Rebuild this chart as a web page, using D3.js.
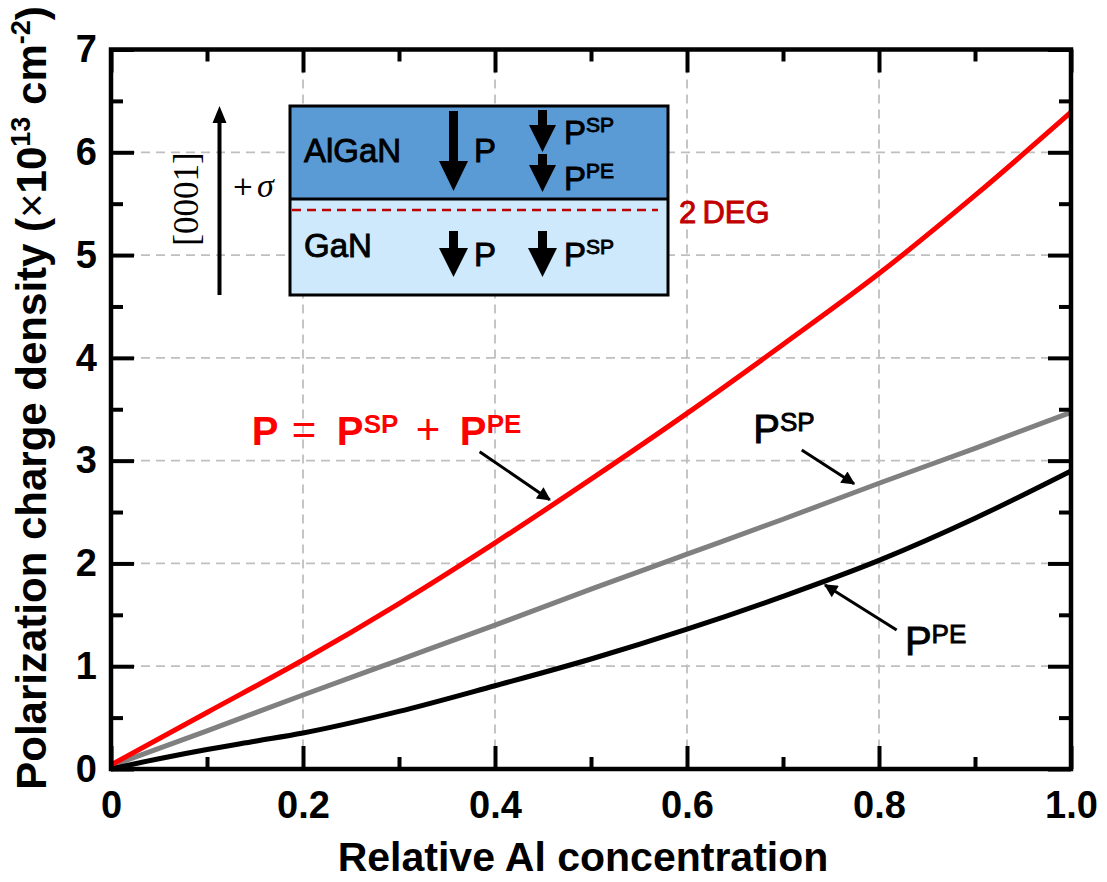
<!DOCTYPE html>
<html>
<head>
<meta charset="utf-8">
<script src="https://cdn.jsdelivr.net/npm/d3@7"></script>
<style>
  body { margin: 0; background: #fff; }
  text { font-family: "Liberation Sans", Arial, sans-serif; }
  .tick-label { font-size: 38px; font-weight: bold; }
  .grid line { stroke: #bfbfbf; stroke-width: 1.8; stroke-dasharray: 9 6; }
  .medium { stroke: currentColor; stroke-width: 0.9; }
</style>
</head>
<body>
<div id="chart"></div>
<script>
// values
const alContent = [0, 0.1, 0.2, 0.3, 0.4, 0.5, 0.6, 0.7, 0.8, 0.9, 1.0];
const pTotal = [0.04, 0.55, 1.06, 1.61, 2.2, 2.82, 3.46, 4.13, 4.82, 5.58, 6.39];
const pSp = [0.03, 0.37, 0.72, 1.06, 1.4, 1.75, 2.09, 2.43, 2.78, 3.12, 3.47];
const pPeX = [0, 0.05, 0.1, 0.15, 0.2, 0.3, 0.4, 0.5, 0.6, 0.7, 0.8, 0.9, 1.0];
const pPe = [0.0, 0.1, 0.19, 0.27, 0.35, 0.56, 0.81, 1.07, 1.36, 1.68, 2.03, 2.44, 2.9];

const xTicks = [0, 0.2, 0.4, 0.6, 0.8, 1.0];
const xTickLabels = ["0", "0.2", "0.4", "0.6", "0.8", "1.0"];
const xMinor = [0.1, 0.3, 0.5, 0.7, 0.9];
const yTicks = [0, 1, 2, 3, 4, 5, 6, 7];
const yMinor = [0.5, 1.5, 2.5, 3.5, 4.5, 5.5, 6.5];

let margin = { top: 49.5, right: 36, bottom: 113, left: 111 },
  width = 1107 - margin.left - margin.right,
  height = 882 - margin.top - margin.bottom;

let svg = d3
  .select("#chart")
  .append("svg")
  .attr("width", 1107)
  .attr("height", 882);

let defs = svg.append("defs");
defs
  .append("marker")
  .attr("id", "head")
  .attr("viewBox", "0 0 10 10")
  .attr("refX", 9)
  .attr("refY", 5)
  .attr("markerWidth", 5.5)
  .attr("markerHeight", 4.5)
  .attr("markerUnits", "strokeWidth")
  .attr("orient", "auto")
  .append("path")
  .attr("d", "M0,0L10,5L0,10z")
  .attr("fill", "#000");

let canvas = svg
  .append("g")
  .attr("transform", "translate(" + margin.left + "," + margin.top + ")");

let xScale = d3.scaleLinear().domain([0, 1]).range([0, width]);
let yScale = d3.scaleLinear().domain([0, 7]).range([height, 0]);

// grid
canvas
  .append("g")
  .attr("class", "grid")
  .selectAll("line.gx")
  .data(xTicks.slice(1, -1))
  .join("line")
  .attr("x1", (d) => xScale(d))
  .attr("x2", (d) => xScale(d))
  .attr("y1", 0)
  .attr("y2", height);

canvas
  .append("g")
  .attr("class", "grid")
  .selectAll("line.gy")
  .data(yTicks.slice(1, -1))
  .join("line")
  .attr("x1", 0)
  .attr("x2", width)
  .attr("y1", (d) => yScale(d))
  .attr("y2", (d) => yScale(d));

// curves
let line = d3
  .line()
  .x((d) => xScale(d[0]))
  .y((d) => yScale(d[1]))
  .curve(d3.curveMonotoneX);

let series = [
  { xs: alContent, ys: pSp, color: "#808080" },
  { xs: pPeX, ys: pPe, color: "#000000" },
  { xs: alContent, ys: pTotal, color: "#ff0000" },
];

series.forEach((s) => {
  canvas
    .append("path")
    .datum(s.xs.map((v, i) => [v, s.ys[i]]))
    .attr("fill", "none")
    .attr("stroke", s.color)
    .attr("stroke-width", 5)
    .attr("d", line);
});

// axes, ticks pointing inward on all four sides
function styleAxis(g) {
  g.select(".domain").remove();
  g.selectAll(".tick line").attr("stroke", "#000").attr("stroke-width", 4);
}

let xAxis = d3
  .axisBottom(xScale)
  .tickValues(xTicks)
  .tickSize(-23)
  .tickPadding(22)
  .tickFormat((d, i) => xTickLabels[i]);

canvas
  .append("g")
  .attr("transform", "translate(0," + height + ")")
  .call(xAxis)
  .call(styleAxis)
  .selectAll("text")
  .attr("class", "tick-label")
  .attr("fill", "#000");

canvas
  .append("g")
  .attr("transform", "translate(0," + height + ")")
  .call(d3.axisBottom(xScale).tickValues(xMinor).tickSize(-12).tickFormat(""))
  .call(styleAxis);

canvas
  .append("g")
  .call(d3.axisTop(xScale).tickValues(xTicks).tickSize(-23).tickFormat(""))
  .call(styleAxis);

canvas
  .append("g")
  .call(d3.axisTop(xScale).tickValues(xMinor).tickSize(-12).tickFormat(""))
  .call(styleAxis);

let yAxis = d3
  .axisLeft(yScale)
  .tickValues(yTicks)
  .tickSize(-23)
  .tickPadding(14)
  .tickFormat(d3.format("d"));

canvas
  .append("g")
  .call(yAxis)
  .call(styleAxis)
  .selectAll("text")
  .attr("class", "tick-label")
  .attr("fill", "#000");

canvas
  .append("g")
  .call(d3.axisLeft(yScale).tickValues(yMinor).tickSize(-12).tickFormat(""))
  .call(styleAxis);

canvas
  .append("g")
  .attr("transform", "translate(" + width + ",0)")
  .call(d3.axisRight(yScale).tickValues(yTicks).tickSize(-23).tickFormat(""))
  .call(styleAxis);

canvas
  .append("g")
  .attr("transform", "translate(" + width + ",0)")
  .call(d3.axisRight(yScale).tickValues(yMinor).tickSize(-12).tickFormat(""))
  .call(styleAxis);

canvas
  .append("rect")
  .attr("width", width)
  .attr("height", height)
  .attr("fill", "none")
  .attr("stroke", "#000")
  .attr("stroke-width", 4.5);

// axis titles
svg
  .append("text")
  .attr("x", 583)
  .attr("y", 871)
  .attr("text-anchor", "middle")
  .style("font-size", "41px")
  .style("font-weight", "bold")
  .text("Relative Al concentration");

let yTitle = svg
  .append("text")
  .attr("transform", "translate(46,398) rotate(-90)")
  .attr("text-anchor", "middle")
  .style("font-size", "42px")
  .style("font-weight", "bold");
yTitle.append("tspan").text("Polarization charge density (");
yTitle.append("tspan").style("font-weight", "normal").text("\u00d7");
yTitle.append("tspan").text("10");
yTitle.append("tspan").attr("dy", -16).style("font-size", "27px").text("13");
yTitle.append("tspan").attr("dy", 16).text(" cm");
yTitle.append("tspan").attr("dy", -16).style("font-size", "27px").text("-2");
yTitle.append("tspan").attr("dy", 16).text(")");

// curve labels and pointers
function supLabel(x, y, base, sup, size, supSize, color) {
  let t = canvas
    .append("text")
    .attr("class", "medium")
    .attr("x", x)
    .attr("y", y)
    .attr("fill", color)
    .style("color", color)
    .style("font-size", size + "px");
  t.append("tspan").text(base);
  t.append("tspan")
    .attr("dy", -size * 0.3)
    .style("font-size", supSize + "px")
    .text(sup);
  return t;
}

function pointer(x1, y1, x2, y2) {
  canvas
    .append("line")
    .attr("x1", xScale(x1))
    .attr("y1", yScale(y1))
    .attr("x2", xScale(x2))
    .attr("y2", yScale(y2))
    .attr("stroke", "#000")
    .attr("stroke-width", 3)
    .attr("marker-end", "url(#head)");
}

pointer(0.384, 3.087, 0.457, 2.62);
pointer(0.7195, 3.103, 0.774, 2.775);
pointer(0.8184, 1.352, 0.7438, 1.79);

// P = PSP + PPE, red
let eq = canvas
  .append("g")
  .attr("transform", "translate(" + xScale(0.1466) + "," + yScale(3.152) + ")")
  .attr("fill", "#ff0000");
eq.append("text").attr("x", 0).style("font-size", "40px").style("font-weight", "bold").text("P");
eq.append("text").attr("x", 40).attr("y", -1).style("font-size", "42px").text("=");
eq.append("text").attr("x", 85).style("font-size", "40px").style("font-weight", "bold").text("P");
eq.append("text").attr("x", 112).attr("y", -12).style("font-size", "26px").style("font-weight", "bold").text("SP");
eq.append("text").attr("x", 164).attr("y", -1).style("font-size", "42px").text("+");
eq.append("text").attr("x", 208).style("font-size", "40px").style("font-weight", "bold").text("P");
eq.append("text").attr("x", 235).attr("y", -12).style("font-size", "26px").style("font-weight", "bold").text("PE");

supLabel(xScale(0.669), yScale(3.171), "P", "SP", 40, 26, "#000");
supLabel(xScale(0.827), yScale(1.109), "P", "PE", 40, 26, "#000");

// inset: AlGaN / GaN structure
let inset = svg.append("g").attr("transform", "translate(290,106)");
let boxW = 378, boxH = 189, split = 93;

inset.append("rect").attr("width", boxW).attr("height", split).attr("fill", "#5b9bd5");
inset.append("rect").attr("y", split).attr("width", boxW).attr("height", boxH - split).attr("fill", "#cde9fb");
inset.append("line").attr("x1", 0).attr("x2", boxW).attr("y1", split).attr("y2", split)
  .attr("stroke", "#000").attr("stroke-width", 3);
inset.append("rect").attr("width", boxW).attr("height", boxH)
  .attr("fill", "none").attr("stroke", "#000").attr("stroke-width", 3);

inset.append("line").attr("x1", 2).attr("x2", 368).attr("y1", 104).attr("y2", 104)
  .attr("stroke", "#c00000").attr("stroke-width", 2.5).attr("stroke-dasharray", "9 6");
inset.append("text").attr("class", "medium").attr("x", 389).attr("y", 117)
  .attr("fill", "#c00000").style("color", "#c00000")
  .style("font-size", "31px").text("2\u2009DEG");

function downArrow(cx, y0, y1, shaftW, headW, headL) {
  let p = d3.path();
  p.moveTo(cx - shaftW / 2, y0);
  p.lineTo(cx + shaftW / 2, y0);
  p.lineTo(cx + shaftW / 2, y1 - headL);
  p.lineTo(cx + headW / 2, y1 - headL);
  p.lineTo(cx, y1);
  p.lineTo(cx - headW / 2, y1 - headL);
  p.lineTo(cx - shaftW / 2, y1 - headL);
  p.closePath();
  inset.append("path").attr("d", p.toString()).attr("fill", "#000");
}

downArrow(163.5, 5, 85, 9, 29, 30);
downArrow(252.5, 4, 46, 9, 27, 27);
downArrow(252.5, 48, 86, 9, 27, 27);
downArrow(163.5, 125, 171, 9, 29, 29);
downArrow(252.5, 125, 171, 9, 29, 29);

function insetText(x, y, base, sup) {
  let t = inset.append("text").attr("class", "medium").style("color", "#000")
    .attr("x", x).attr("y", y).style("font-size", "33px");
  t.append("tspan").text(base);
  if (sup) t.append("tspan").attr("dy", -12).style("font-size", "21px").text(sup);
}

insetText(14, 56, "AlGaN");
insetText(184, 56, "P");
insetText(274, 38, "P", "SP");
insetText(274, 84, "P", "PE");
insetText(14, 151, "GaN");
insetText(184, 160, "P");
insetText(274, 160, "P", "SP");

// growth direction
inset.append("line").attr("x1", -70.5).attr("x2", -70.5).attr("y1", 189).attr("y2", 14)
  .attr("stroke", "#000").attr("stroke-width", 4);
inset.append("path").attr("d", "M-70.5,0L-77.5,17L-63.5,17Z").attr("fill", "#000");

inset.append("text")
  .attr("transform", "translate(-92,93) rotate(-90)")
  .attr("text-anchor", "middle")
  .style("font-family", "'Liberation Serif', serif")
  .style("font-size", "35px")
  .text("[0001]");

inset.append("text")
  .attr("x", -58)
  .attr("y", 89)
  .style("font-family", "'DejaVu Serif', serif")
  .style("font-size", "26px")
  .text("+");
inset.append("text")
  .attr("x", -33)
  .attr("y", 91)
  .style("font-family", "'Liberation Serif', serif")
  .style("font-style", "italic")
  .style("font-size", "34px")
  .text("\u03c3");
</script>
</body>
</html>
